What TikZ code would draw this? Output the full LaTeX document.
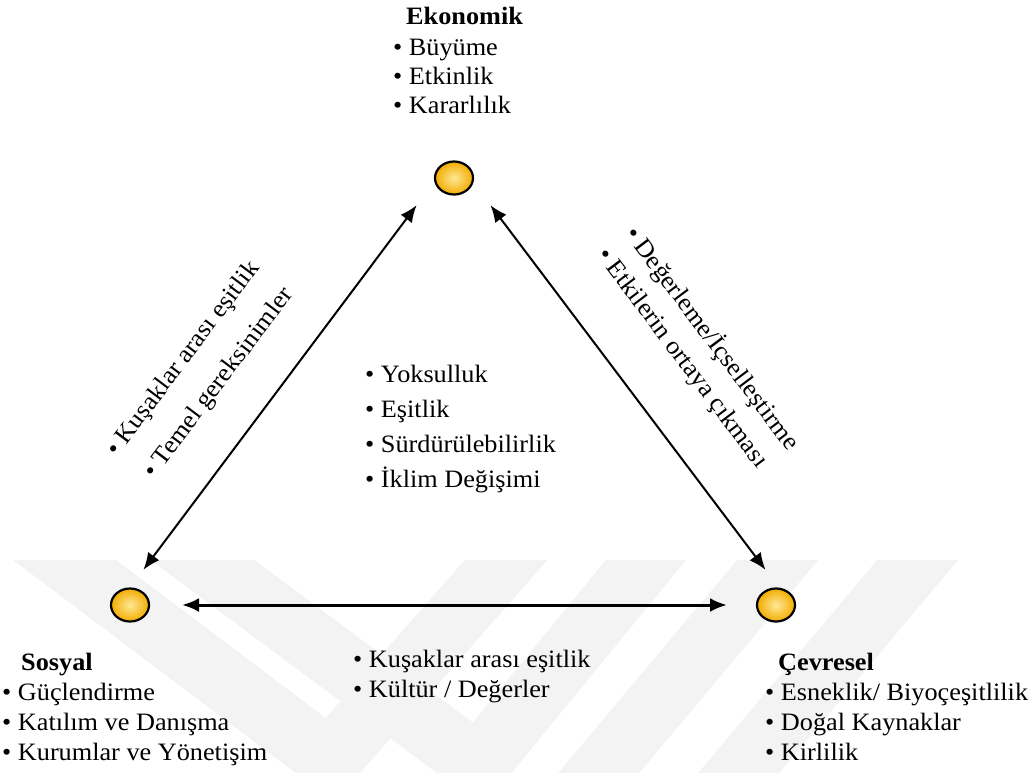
\documentclass[tikz,border=0pt]{standalone}
\usepackage{fontspec}
\setmainfont{Liberation Serif}[FakeStretch=1.05]
\usetikzlibrary{shapes.geometric,arrows.meta}
\definecolor{dotin}{RGB}{255,232,150}
\definecolor{dotout}{RGB}{242,172,0}
\definecolor{wmgray}{RGB}{243,243,243}

\newcommand{\itemlist}[5]{
  % one bullet line per entry
  \foreach \txt [count=\i] in {#5}
    \node[item] (#1\i) at (#2,{#3+(\i-1)*#4}) {• \txt};
}

\begin{document}
\begin{tikzpicture}[x=1pt,y=-1pt,
  dot/.style={ellipse,draw,line width=2.2pt,minimum width=38pt,minimum height=33pt,
    inner sep=0,shading=radial,inner color=dotin,outer color=dotout},
  item/.style={anchor=base west,inner sep=0,font=\fontsize{25}{30}\selectfont},
  head/.style={item,font=\fontsize{25}{30}\selectfont\bfseries},
  link/.style={line width=2pt,{Latex[length=17pt,width=14pt]}-{Latex[length=17pt,width=14pt]}},
  wmark/.style={line width=62pt,wmgray,line join=miter}]
\useasboundingbox (0,0) rectangle (1035,772);

% watermark
\begin{scope}
  \clip (0,560) rectangle (1035,772);
  \draw[wmark] (-15,500) -- (330,760) -- (559,500);
  \draw[wmark] (122,500) -- (478,765) -- (695,500);
  \draw[wmark] (828,500) -- (576,800);
  \draw[wmark] (968,500) -- (716,800);
\end{scope}

% the three pillars
\node[dot] (eko) at (454,178) {};
\node[dot] (sos) at (130,605) {};
\node[dot] (cev) at (776,605) {};

\draw[link,shorten <=34pt,shorten >=44pt] ([xshift=-17pt]eko.center) -- ([xshift=-13pt]sos.center);
\draw[link,shorten <=34pt,shorten >=44pt] ([xshift=16pt]eko.center) -- ([xshift=16pt]cev.center);
\draw[link,line width=3pt,shorten <=52pt,shorten >=49pt] (sos.center) -- (cev.center);

% labels
\node[head] (ekohead) at (406,24) {Ekonomik};
\itemlist{eko}{393}{55}{29}{Büyüme,Etkinlik,Kararlılık}

\node[head] (soshead) at (21,670) {Sosyal};
\itemlist{sos}{2}{700}{30}{Güçlendirme,Katılım ve Danışma,Kurumlar ve Yönetişim}

\node[head] (cevhead) at (778,670) {Çevresel};
\itemlist{cev}{765}{700}{30}{Esneklik/ Biyoçeşitlilik,Doğal Kaynaklar,Kirlilik}

\itemlist{mid}{365}{382}{35}{Yoksulluk,Eşitlik,Sürdürülebilirlik,İklim Değişimi}
\itemlist{bot}{353}{667}{30}{Kuşaklar arası eşitlik,Kültür / Değerler}

% along the sides
\node[item,rotate=53] (left1) at (117,458) {• Kuşaklar arası eşitlik};
\node[item,rotate=53] (left2) at (154,480) {• Temel gereksinimler};
\node[item,rotate=-53] (right1) at (624,234) {• Değerleme/İçselleştirme};
\node[item,rotate=-53] (right2) at (596,255) {• Etkilerin ortaya çıkması};
\end{tikzpicture}
\end{document}
